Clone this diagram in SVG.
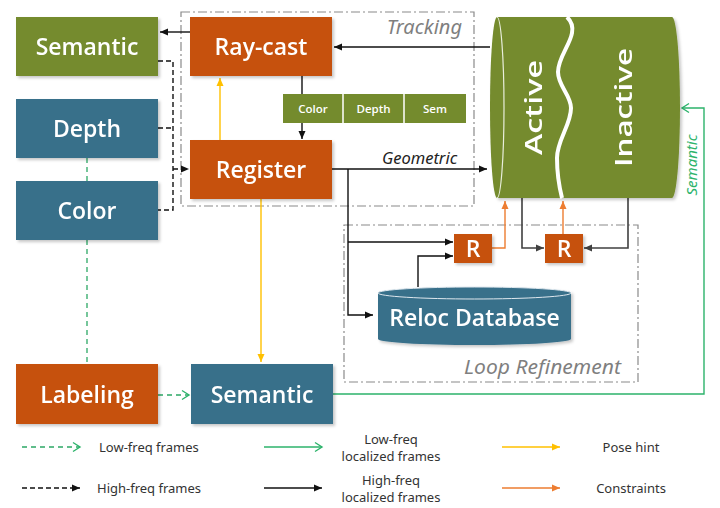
<svg xmlns="http://www.w3.org/2000/svg" width="720" height="508" viewBox="0 0 720 508">
<style>
.box{stroke:none}
.g{fill:#748B2D}
.b{fill:#386F8A}
.o{fill:#C6510C}
.lbl{font-family:"Open Sans","Noto Sans",sans-serif;font-weight:600;font-size:23px;fill:#fff;text-anchor:middle}
.sm{font-family:"Open Sans","Noto Sans",sans-serif;font-weight:600;font-size:11.5px;fill:#fff;text-anchor:middle}
.it{font-family:"Noto Sans","Open Sans",sans-serif;font-style:italic}
.lg{font-family:"Noto Sans","Open Sans",sans-serif;font-size:13px;fill:#333}
.ln{fill:none;stroke:#111;stroke-width:1.4}
.frame{fill:none;stroke:#8a8a8a;stroke-width:1.2;stroke-dasharray:9 3 2 3}
</style>
<defs>
<filter id="sh" x="-10%" y="-10%" width="130%" height="130%">
<feDropShadow dx="2" dy="2" stdDeviation="1.5" flood-color="#000" flood-opacity="0.22"/>
</filter>
<marker id="aK" markerUnits="userSpaceOnUse" markerWidth="10" markerHeight="10" refX="8" refY="5" orient="auto"><path d="M0,1.5 L8,5 L0,8.5 Z" fill="#111"/></marker>
<marker id="aD" markerUnits="userSpaceOnUse" markerWidth="10" markerHeight="10" refX="8" refY="5" orient="auto"><path d="M0,1.5 L8,5 L0,8.5 Z" fill="#404040"/></marker>
<marker id="aY" markerUnits="userSpaceOnUse" markerWidth="10" markerHeight="10" refX="8" refY="5" orient="auto"><path d="M0,1.5 L8,5 L0,8.5 Z" fill="#FFC000"/></marker>
<marker id="aO" markerUnits="userSpaceOnUse" markerWidth="10" markerHeight="10" refX="8" refY="5" orient="auto"><path d="M0,1.5 L8,5 L0,8.5 Z" fill="#ED7D31"/></marker>
<marker id="aG" markerUnits="userSpaceOnUse" markerWidth="12" markerHeight="12" refX="9" refY="6" orient="auto"><path d="M2,1.5 L9,6 L2,10.5" fill="none" stroke="#2DB36B" stroke-width="1.4"/></marker>
</defs>
<rect width="720" height="508" fill="#fff"/>

<g id="frames">
<rect class="frame" x="181" y="12" width="293" height="194"/>
<rect class="frame" x="344" y="225" width="294" height="157"/>
<text class="it" x="462" y="34" font-size="20" fill="#7f7f7f" text-anchor="end">Tracking</text>
<text class="it" x="621" y="374" font-size="20" fill="#7f7f7f" text-anchor="end" textLength="157" lengthAdjust="spacingAndGlyphs">Loop Refinement</text>
</g>

<g id="connectors">
<path class="ln" d="M190,32 L160,32" marker-end="url(#aK)"/>
<path class="ln" d="M490,47 L334,47" marker-end="url(#aK)"/>
<path class="ln" d="M302,76 L302,94"/>
<path class="ln" d="M302,123 L302,139" marker-end="url(#aK)"/>
<path d="M220,140 L220,78" fill="none" stroke="#FFC000" stroke-width="1.4" marker-end="url(#aY)"/>
<path d="M261,199 L261,362" fill="none" stroke="#FFC000" stroke-width="1.4" marker-end="url(#aY)"/>
<path class="ln" d="M332,169 L487,169" marker-end="url(#aK)"/>
<text class="it" x="382" y="164" font-size="16.5" fill="#222">Geometric</text>
<path class="ln" d="M348,169 L348,315 L373,315" marker-end="url(#aK)"/>
<path class="ln" d="M348,242 L453,242" marker-end="url(#aK)"/>
<path class="ln" d="M418,287 L418,256 L453,256" marker-end="url(#aK)"/>
<path d="M492,248 L505,248 L505,201" fill="none" stroke="#ED7D31" stroke-width="1.4" marker-end="url(#aO)"/>
<path d="M563,234 L563,201" fill="none" stroke="#ED7D31" stroke-width="1.4" marker-end="url(#aO)"/>
<path d="M522,198 L522,248 L544,248" fill="none" stroke="#404040" stroke-width="1.6" marker-end="url(#aD)"/>
<path d="M628,198 L628,248 L584,248" fill="none" stroke="#404040" stroke-width="1.6" marker-end="url(#aD)"/>
<path d="M333,394 L704,394 L704,108 L682,108" fill="none" stroke="#2DB36B" stroke-width="1.4" marker-end="url(#aG)"/>
<text class="it" transform="translate(697,165) rotate(-90)" font-size="15" fill="#2DB36B" text-anchor="middle">Semantic</text>
<path d="M87,158 L87,181 M87,240 L87,364" fill="none" stroke="#2DA866" stroke-width="1.3" stroke-dasharray="5 4"/>
<path d="M158,395 L189,395" fill="none" stroke="#2DA866" stroke-width="1.3" stroke-dasharray="5 4" marker-end="url(#aG)"/>
<path d="M158,61 L173,61 L173,210 L158,210 M158,128 L173,128" fill="none" stroke="#111" stroke-width="1.4" stroke-dasharray="5 3"/>
<path d="M173,169 L189,169" fill="none" stroke="#111" stroke-width="1.4" stroke-dasharray="5 3" marker-end="url(#aK)"/>
</g>

<g id="semantic-top" filter="url(#sh)">
<rect class="box g" x="16" y="17" width="142" height="59"/>
<text class="lbl" x="87" y="55">Semantic</text>
</g>
<g id="depth" filter="url(#sh)">
<rect class="box b" x="16" y="99" width="142" height="59"/>
<text class="lbl" x="87" y="137">Depth</text>
</g>
<g id="color" filter="url(#sh)">
<rect class="box b" x="16" y="181" width="142" height="59"/>
<text class="lbl" x="87" y="219">Color</text>
</g>
<g id="raycast" filter="url(#sh)">
<rect class="box o" x="190" y="17" width="142" height="59"/>
<text class="lbl" x="261" y="55">Ray-cast</text>
</g>
<g id="register" filter="url(#sh)">
<rect class="box o" x="190" y="140" width="142" height="59"/>
<text class="lbl" x="261" y="178">Register</text>
</g>
<g id="channels">
<rect class="g" x="283" y="94" width="183" height="29"/>
<path d="M343,94 L343,123 M404,94 L404,123" stroke="#fff" stroke-width="1.5"/>
<text class="sm" x="313" y="113">Color</text>
<text class="sm" x="373.5" y="113">Depth</text>
<text class="sm" x="435" y="113">Sem</text>
</g>
<g id="map" filter="url(#sh)">
<path class="g" d="M497,17 L672,17 A8,90.5 0 0 1 672,198 L497,198 A7,90.5 0 0 1 497,17 Z"/>
<path d="M497,17 A7,90.5 0 0 1 497,198" fill="none" stroke="#e9eedc" stroke-width="1.2"/>
<path d="M567,17 C572,22 573,28 572,33 C570,45 558,58 558,72 C558,86 571,95 571,108 C571,125 557,140 557,158 C557,175 560,190 562,198" fill="none" stroke="#fff" stroke-width="4"/>
<text class="lbl" transform="translate(542,107.5) rotate(-90)" font-size="35" textLength="95" lengthAdjust="spacingAndGlyphs">Active</text>
<text class="lbl" transform="translate(632,107.5) rotate(-90)" font-size="35" textLength="119" lengthAdjust="spacingAndGlyphs">Inactive</text>
</g>
<g id="r1" filter="url(#sh)">
<rect class="o" x="454" y="234" width="38" height="29"/>
<text class="lbl" x="473" y="257" font-size="21">R</text>
</g>
<g id="r2" filter="url(#sh)">
<rect class="o" x="545" y="234" width="38" height="29"/>
<text class="lbl" x="564" y="257" font-size="21">R</text>
</g>
<g id="reloc" filter="url(#sh)">
<path class="b" d="M378,293 A96.5,6 0 0 1 571,293 L571,339 A96.5,6 0 0 1 378,339 Z"/>
<ellipse cx="474.5" cy="293" rx="96.5" ry="6" fill="#386F8A" stroke="#dfe8ee" stroke-width="1"/>
<text class="lbl" x="474.5" y="326">Reloc Database</text>
</g>
<g id="labeling" filter="url(#sh)">
<rect class="box o" x="16" y="364" width="142" height="60"/>
<text class="lbl" x="87" y="403">Labeling</text>
</g>
<g id="semantic-bottom" filter="url(#sh)">
<rect class="box b" x="191" y="364" width="142" height="60"/>
<text class="lbl" x="262" y="403">Semantic</text>
</g>

<g id="legend">
<path d="M22,447 L80,447" fill="none" stroke="#2DA866" stroke-width="1.3" stroke-dasharray="5 4" marker-end="url(#aG)"/>
<text class="lg" x="99" y="452">Low-freq frames</text>
<path d="M264,447 L322,447" fill="none" stroke="#2DB36B" stroke-width="1.3" marker-end="url(#aG)"/>
<text class="lg" x="391" y="444" text-anchor="middle">Low-freq</text>
<text class="lg" x="391" y="461" text-anchor="middle">localized frames</text>
<path d="M502,447 L560,447" fill="none" stroke="#FFC000" stroke-width="1.4" marker-end="url(#aY)"/>
<text class="lg" x="631" y="452" text-anchor="middle">Pose hint</text>
<path d="M22,488 L80,488" fill="none" stroke="#111" stroke-width="1.4" stroke-dasharray="5 3" marker-end="url(#aK)"/>
<text class="lg" x="97" y="493">High-freq frames</text>
<path d="M264,488 L322,488" fill="none" stroke="#111" stroke-width="1.4" marker-end="url(#aK)"/>
<text class="lg" x="391" y="485" text-anchor="middle">High-freq</text>
<text class="lg" x="391" y="502" text-anchor="middle">localized frames</text>
<path d="M502,488 L560,488" fill="none" stroke="#ED7D31" stroke-width="1.4" marker-end="url(#aO)"/>
<text class="lg" x="631" y="493" text-anchor="middle">Constraints</text>
</g>
</svg>
